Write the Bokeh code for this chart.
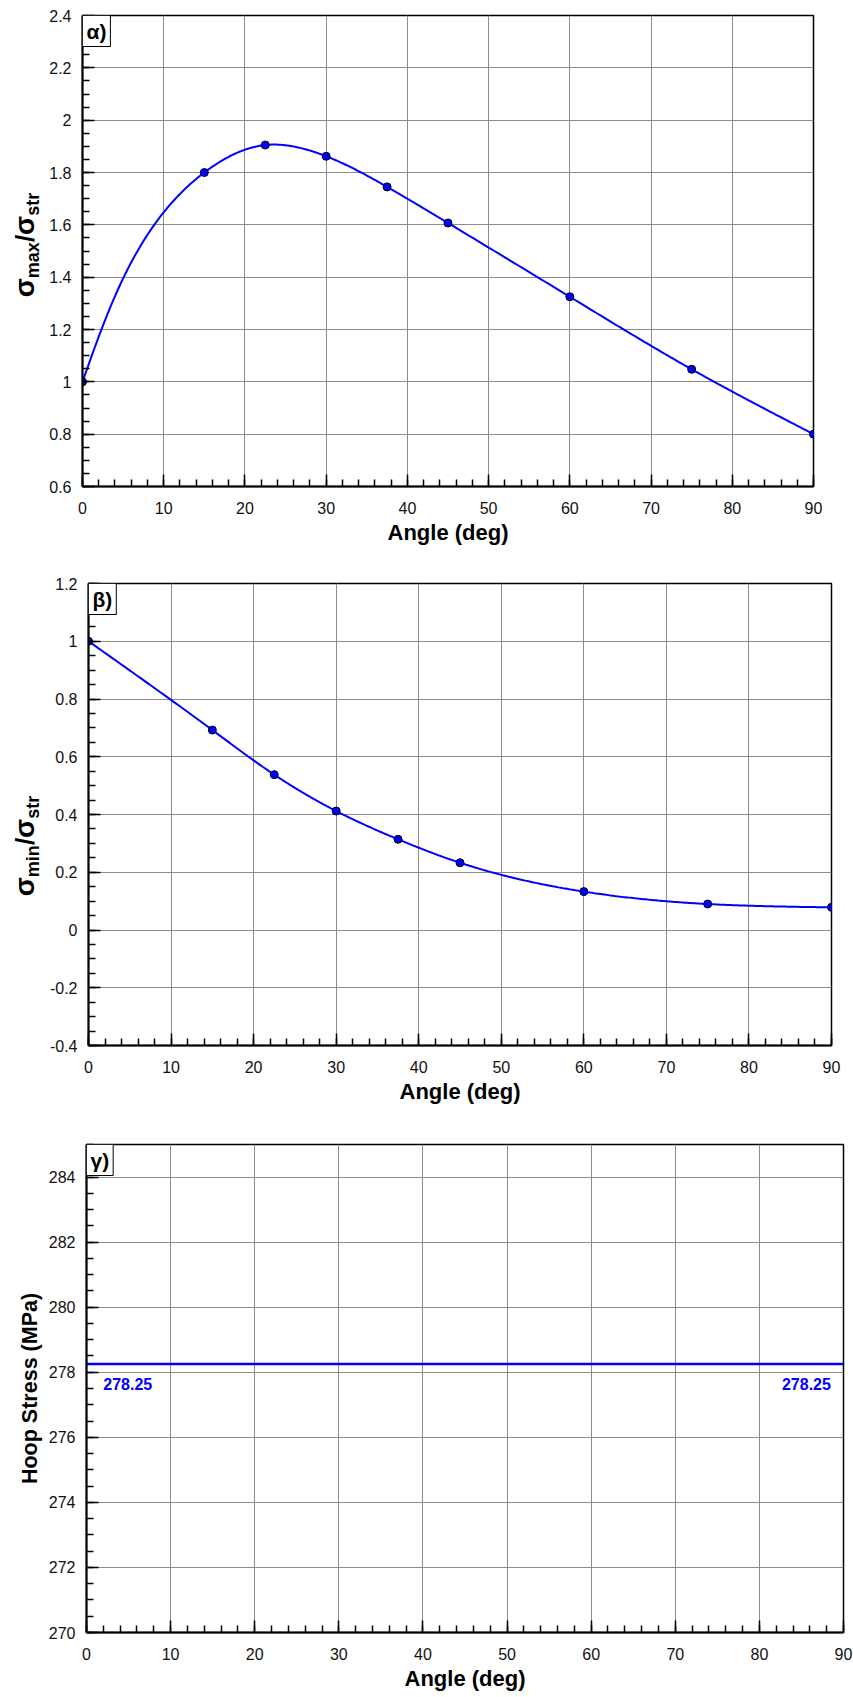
import numpy as np
from bokeh.plotting import figure
from bokeh.layouts import column, row
from bokeh.models import Label, FixedTicker, Range1d, Div
from bokeh.embed import file_html
from bokeh.resources import INLINE

# ---------------- data ----------------
angle = [0, 15, 22.5, 30, 37.5, 45, 60, 75, 90]
sigma_max_ratio = [1.0, 1.80, 1.905, 1.862, 1.745, 1.607, 1.325, 1.048, 0.800]
sigma_min_ratio = [1.0, 0.6925, 0.538, 0.412, 0.314, 0.233, 0.133, 0.090, 0.0785]
hoop_angle = [0, 90]
hoop_stress = [278.25, 278.25]

x_ticks = [0, 10, 20, 30, 40, 50, 60, 70, 80, 90]
y1_ticks = [0.6, 0.8, 1.0, 1.2, 1.4, 1.6, 1.8, 2.0, 2.2, 2.4]
y2_ticks = [-0.4, -0.2, 0.0, 0.2, 0.4, 0.6, 0.8, 1.0, 1.2]
y3_ticks = [270, 272, 274, 276, 278, 280, 282, 284]

FONT = "Liberation Sans"
LABW = 42  # width of the side strip holding the composed y labels


def tick_text(v):
    s = f"{v:.1f}".rstrip("0").rstrip(".")
    return "0" if s in ("-0", "") else s


def parametric_spline(xs, ys, sx, sy, n=60):
    """Natural parametric cubic spline (chord-length, screen-scaled)."""
    P = np.column_stack([np.asarray(xs, float) * sx, np.asarray(ys, float) * sy])
    d = np.diff(P, axis=0)
    h = np.hypot(d[:, 0], d[:, 1])
    N = len(P)
    A = np.zeros((N, N))
    B = np.zeros((N, 2))
    A[0, 0] = 1
    A[-1, -1] = 1
    for i in range(1, N - 1):
        A[i, i - 1] = h[i - 1]
        A[i, i] = 2 * (h[i - 1] + h[i])
        A[i, i + 1] = h[i]
        B[i] = 6 * ((P[i + 1] - P[i]) / h[i] - (P[i] - P[i - 1]) / h[i - 1])
    M = np.linalg.solve(A, B)
    out = []
    for i in range(N - 1):
        s = np.linspace(0, h[i], n, endpoint=(i == N - 2))
        a = (h[i] - s) / h[i]
        b = s / h[i]
        seg = (a[:, None] * P[i] + b[:, None] * P[i + 1]
               + ((a ** 3 - a)[:, None] * M[i] + (b ** 3 - b)[:, None] * M[i + 1]) * h[i] ** 2 / 6)
        out.append(seg)
    out = np.vstack(out)
    return out[:, 0] / sx, out[:, 1] / sy


def make_fig(fw, fh, left, right, top, bottom, yr, yticks, yminor):
    p = figure(frame_width=fw, frame_height=fh,
               x_range=Range1d(0, 90), y_range=Range1d(*yr),
               output_backend="svg", toolbar_location=None,
               min_border_left=left, min_border_right=right,
               min_border_top=top, min_border_bottom=bottom,
               background_fill_color="white", border_fill_color="white")
    p.outline_line_color = "black"
    p.outline_line_width = 1.5
    p.outline_line_alpha = 1.0
    p.xaxis.ticker = FixedTicker(ticks=x_ticks, minor_ticks=list(np.arange(0, 90.01, 2)))
    p.yaxis.ticker = FixedTicker(ticks=yticks, minor_ticks=yminor)
    p.yaxis.major_label_overrides = {v: tick_text(v) for v in yticks}
    for ax in (p.xaxis[0], p.yaxis[0]):
        ax.axis_line_width = 2
        ax.axis_line_color = "black"
        ax.major_tick_in = 12
        ax.major_tick_out = 0
        ax.minor_tick_in = 7
        ax.minor_tick_out = 0
        ax.major_tick_line_width = 1.5
        ax.minor_tick_line_width = 1.5
        ax.major_tick_line_color = "black"
        ax.minor_tick_line_color = "black"
        ax.major_label_text_font = FONT
        ax.major_label_text_font_size = "16px"
        ax.major_label_text_color = "#111111"
        ax.major_label_standoff = 11
        ax.axis_label_text_font = FONT
        ax.axis_label_text_font_style = "bold"
        ax.axis_label_text_font_size = "22px"
        ax.axis_label_text_color = "black"
    p.xaxis.major_label_standoff = 15
    p.xaxis.axis_label = "Angle (deg)"
    p.xaxis.axis_label_standoff = 3
    p.grid.grid_line_color = "#8c8c8c"
    p.grid.grid_line_width = 1
    return p


def panel_tag(p, text, x, y):
    p.add_layout(Label(x=x, y=y, text=text, text_align="left", text_baseline="top",
                       text_font=FONT, text_font_style="bold", text_font_size="21px",
                       text_color="black", background_fill_color="white",
                       border_line_color="black", border_line_width=1, padding=4))


def label_strip(height, sub1, sub2, dx, dy):
    """HTML strip holding a rotated y label with real subscripts."""
    sub = "font-size:18px;position:relative;top:5px;"
    html = (
        f'<div style="width:{LABW}px;height:{height}px;display:flex;align-items:center;'
        f'justify-content:center;overflow:visible;">'
        f'<span style="display:inline-block;position:relative;left:{dx}px;top:{dy}px;'
        f'transform:rotate(-90deg);white-space:nowrap;font-family:\'{FONT}\';'
        f'font-weight:bold;font-size:22px;line-height:1;color:black;">'
        f'<span style="font-size:28px">σ</span><span style="{sub}">{sub1}</span>'
        f'<span style="font-size:26px">/</span>'
        f'<span style="font-size:28px">σ</span><span style="{sub}">{sub2}</span>'
        f'</span></div>'
    )
    return Div(text=html, width=LABW, height=height, margin=(0, 0, 0, 0))


# ---------------- panel α ----------------
F1 = dict(left=82, top=15, fw=731, fh=471, bottom=62)
H1 = F1["top"] + F1["fh"] + F1["bottom"]
p1 = make_fig(F1["fw"], F1["fh"], F1["left"] - LABW, 853 - F1["left"] - F1["fw"], F1["top"],
              F1["bottom"], (0.6, 2.4), y1_ticks, list(np.arange(0.6, 2.401, 0.05)))
sx1 = F1["fw"] / 90
sy1 = F1["fh"] / 1.8
cx, cy = parametric_spline(angle, sigma_max_ratio, sx1, sy1)
p1.line(cx, cy, line_color="#0000ff", line_width=2)
p1.scatter(angle, sigma_max_ratio, size=8, fill_color="#0000ff", line_color="black", line_width=1)
panel_tag(p1, "α)", 0, 2.4)
lab1 = label_strip(H1, "max", "str", 4, 245 - H1 / 2)

# ---------------- panel β ----------------
F2 = dict(left=88, top=583 - H1, fw=743, fh=462, bottom=62)
H2 = F2["top"] + F2["fh"] + F2["bottom"]
p2 = make_fig(F2["fw"], F2["fh"], F2["left"] - LABW, 853 - F2["left"] - F2["fw"], F2["top"],
              F2["bottom"], (-0.4, 1.2), y2_ticks, list(np.arange(-0.4, 1.201, 0.05)))
sx2 = F2["fw"] / 90
sy2 = F2["fh"] / 1.6
cx2, cy2 = parametric_spline(angle, sigma_min_ratio, sx2, sy2)
p2.line(cx2, cy2, line_color="#0000ff", line_width=2)
p2.scatter(angle, sigma_min_ratio, size=8, fill_color="#0000ff", line_color="black", line_width=1)
panel_tag(p2, "β)", 0, 1.2)
lab2 = label_strip(H2, "min", "str", 4, (846 - H1) - H2 / 2)

# ---------------- panel γ ----------------
F3 = dict(left=86, top=1144 - H1 - H2, fw=757, fh=488)
F3["bottom"] = 1697 - H1 - H2 - F3["top"] - F3["fh"]
p3 = make_fig(F3["fw"], F3["fh"], F3["left"], 853 - F3["left"] - F3["fw"], F3["top"],
              F3["bottom"], (270, 285), y3_ticks, list(np.arange(270, 285.01, 0.5)))
p3.yaxis.axis_label = "Hoop Stress (MPa)"
p3.yaxis.axis_label_text_font_size = "21.5px"
p3.yaxis.axis_label_standoff = 4
p3.line(hoop_angle, hoop_stress, line_color="#0000ff", line_width=2.5)
sy3 = F3["fh"] / 15
lbl_y = hoop_stress[0] - 14 / sy3
p3.add_layout(Label(x=2.0, y=lbl_y, text=f"{hoop_stress[0]:.2f}", text_align="left",
                    text_baseline="top", text_font=FONT, text_font_style="bold",
                    text_font_size="16px", text_color="#0000ff"))
p3.add_layout(Label(x=88.5, y=lbl_y, text=f"{hoop_stress[-1]:.2f}", text_align="right",
                    text_baseline="top", text_font=FONT, text_font_style="bold",
                    text_font_size="16px", text_color="#0000ff"))
panel_tag(p3, "γ)", 0, 285)

layout = column(row(lab1, p1, spacing=0), row(lab2, p2, spacing=0), p3, spacing=0)
open("out.html", "w").write(file_html(layout, INLINE))
